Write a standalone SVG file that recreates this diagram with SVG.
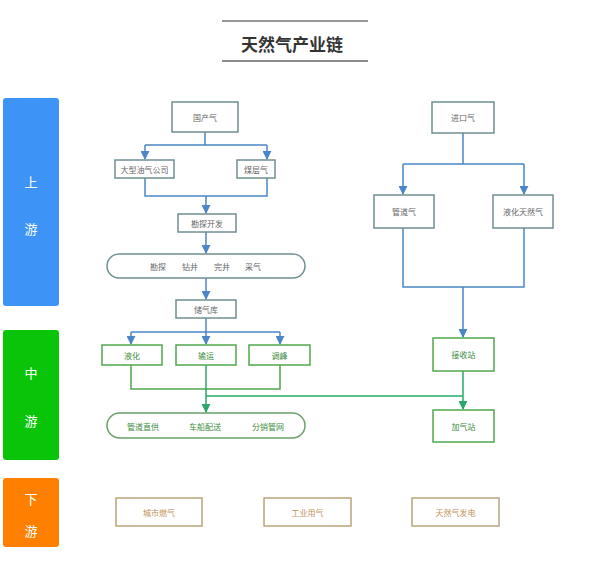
<svg xmlns="http://www.w3.org/2000/svg" width="598" height="565" viewBox="0 0 598 565">
<defs>
<marker id="ab" viewBox="0 0 10 10" refX="9" refY="5" markerWidth="6" markerHeight="6" orient="auto"><path d="M0,0 L10,5 L0,10 z" fill="#4a86c8"/></marker>
<marker id="ag" viewBox="0 0 10 10" refX="9" refY="5" markerWidth="6" markerHeight="6" orient="auto"><path d="M0,0 L10,5 L0,10 z" fill="#2aa86a"/></marker>
</defs>
<style>
text{font-family:"Noto Sans CJK SC","Liberation Sans",sans-serif;text-anchor:middle;dominant-baseline:central}
.side text{fill:#fff;font-size:13px}
.u rect{fill:#fff;stroke:#6f8f90;stroke-width:1.5}
.u text{fill:#666;font-size:8px}
.m rect{fill:#fff;stroke:#4ea84e;stroke-width:1.5}
.m text{fill:#3c8c3c;font-size:8px}
.d rect{fill:#fff;stroke:#b8a478;stroke-width:1.5}
.d text{fill:#c09258;font-size:8px}
.cb{fill:none;stroke:#4a86c8;stroke-width:1.5}
.cg{fill:none;stroke:#4ea84e;stroke-width:1.5}
.cg2{fill:none;stroke:#2aa86a;stroke-width:1.5}
</style>
<rect width="598" height="565" fill="#fff"/>
<g id="title">
<line x1="222" y1="21" x2="368" y2="21" stroke="#333" stroke-width="1.2"/>
<line x1="222" y1="61" x2="368" y2="61" stroke="#666" stroke-width="1.5"/>
<text x="292" y="43" style="font-size:17px;font-weight:bold;fill:#333">天然气产业链</text>
</g>
<g class="side">
<g id="up"><rect x="3" y="98" width="56" height="208" rx="3" fill="#3d94f6"/><text x="31" y="181">上</text><text x="31" y="228">游</text></g>
<g id="mid"><rect x="3" y="330" width="56" height="130" rx="3" fill="#0ac40a"/><text x="31" y="372">中</text><text x="31" y="420">游</text></g>
<g id="down"><rect x="3" y="478" width="56" height="69" rx="3" fill="#ff8000"/><text x="31" y="498">下</text><text x="31" y="530">游</text></g>
</g>
<g id="connectors">
<path class="cb" d="M205,132 V145 M145,145 H267"/>
<path class="cb" d="M145,145 V159" marker-end="url(#ab)"/>
<path class="cb" d="M267,145 V159" marker-end="url(#ab)"/>
<path class="cb" d="M145,178 V196 H267 V178"/>
<path class="cb" d="M206,196 V213" marker-end="url(#ab)"/>
<path class="cb" d="M206,232 V253" marker-end="url(#ab)"/>
<path class="cb" d="M206,278 V299" marker-end="url(#ab)"/>
<path class="cb" d="M206,318 V332 M131,332 H280"/>
<path class="cb" d="M131,332 V344" marker-end="url(#ab)"/>
<path class="cb" d="M206,332 V344" marker-end="url(#ab)"/>
<path class="cb" d="M280,332 V344" marker-end="url(#ab)"/>
<path class="cb" d="M463,133 V164 M403,164 H524"/>
<path class="cb" d="M403,164 V194" marker-end="url(#ab)"/>
<path class="cb" d="M524,164 V194" marker-end="url(#ab)"/>
<path class="cb" d="M403,228 V287 H524 V228"/>
<path class="cb" d="M463,287 V337" marker-end="url(#ab)"/>
<path class="cg" d="M131,365 V389 H280 V365"/>
<path class="cg2" d="M206,365 V412" marker-end="url(#ag)"/>
<path class="cg2" d="M206,396 H463"/>
<path class="cg2" d="M463,371 V409" marker-end="url(#ag)"/>
</g>
<g class="u">
<g id="guochanqi"><rect x="172" y="102" width="66" height="30"/><text x="205" y="117">国产气</text></g>
<g id="dayouqi"><rect x="115" y="160" width="59" height="18"/><text x="144.5" y="169">大型油气公司</text></g>
<g id="meicengqi"><rect x="237" y="160" width="38" height="18"/><text x="256" y="169">煤层气</text></g>
<g id="kantan"><rect x="178" y="214" width="58" height="18"/><text x="207" y="223">勘探开发</text></g>
<g id="process"><rect x="107" y="254" width="198" height="24" rx="12"/><text x="158" y="266">勘探</text><text x="190" y="266">钻井</text><text x="222" y="266">完井</text><text x="253" y="266">采气</text></g>
<g id="chuqiku"><rect x="176" y="300" width="60" height="18"/><text x="206" y="309">储气库</text></g>
<g id="jinkouqi"><rect x="432" y="102" width="62" height="31"/><text x="463" y="117.5">进口气</text></g>
<g id="guandaoqi"><rect x="374" y="195" width="60" height="33"/><text x="404" y="211.5">管道气</text></g>
<g id="lng"><rect x="493" y="195" width="60" height="33"/><text x="523" y="211.5">液化天然气</text></g>
</g>
<g class="m">
<g id="yehua"><rect x="102" y="345" width="60" height="20"/><text x="132" y="355">液化</text></g>
<g id="shuyun"><rect x="176" y="345" width="60" height="20"/><text x="206" y="355">输运</text></g>
<g id="tiaofeng"><rect x="249" y="345" width="61" height="20"/><text x="279.5" y="355">调峰</text></g>
<g id="dist"><rect x="107" y="413" width="198" height="25" rx="12.5" style="stroke:#6aa06a"/><text x="143" y="426">管道直供</text><text x="205" y="426">车船配送</text><text x="268" y="426">分销管网</text></g>
<g id="jieshouzhan"><rect x="433" y="338" width="61" height="33"/><text x="463.5" y="354.5">接收站</text></g>
<g id="jiaqizhan"><rect x="433" y="410" width="61" height="32"/><text x="463.5" y="426">加气站</text></g>
</g>
<g class="d">
<g id="city"><rect x="116" y="498" width="86" height="28"/><text x="159" y="512">城市燃气</text></g>
<g id="industry"><rect x="264" y="498" width="87" height="28"/><text x="307.5" y="512">工业用气</text></g>
<g id="power"><rect x="412" y="498" width="87" height="28"/><text x="455.5" y="512">天然气发电</text></g>
</g>
</svg>
